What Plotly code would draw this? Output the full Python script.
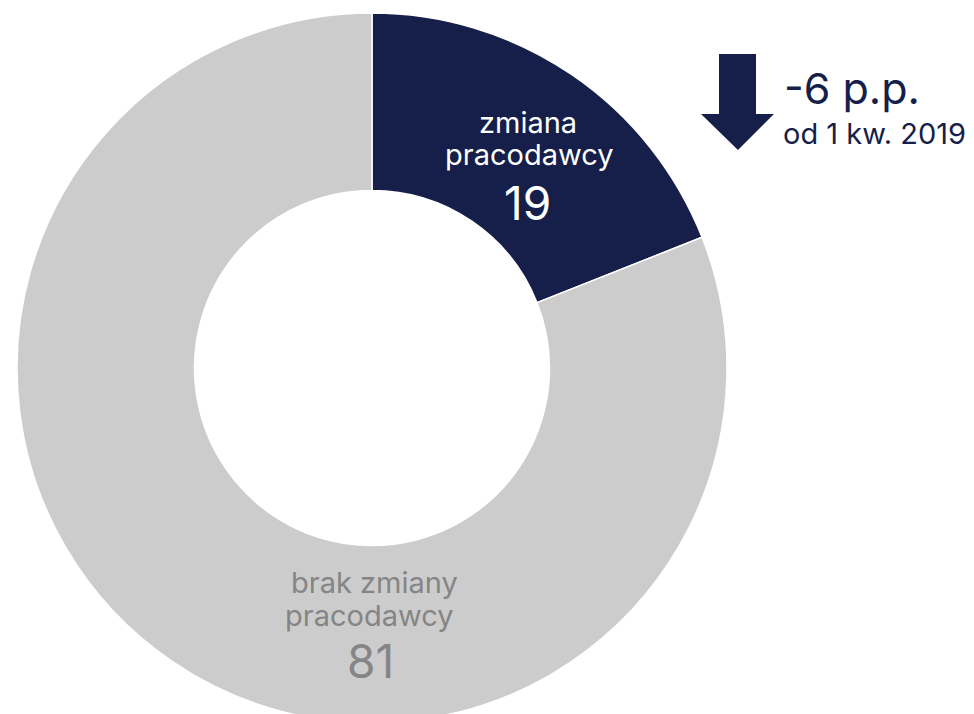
import plotly.graph_objects as go

# Data
categories = ["zmiana pracodawcy", "brak zmiany pracodawcy"]
values = [19, 81]
label_lines = [["zmiana", "pracodawcy"], ["brak zmiany", "pracodawcy"]]
change_text = "-6 p.p."
change_sub = "od 1 kw. 2019"

NAVY = "#161f4a"
GRAY = "#cccccc"
GRAY_TXT = "#858585"
FONT = "Inter"

W, H = 966, 720
OFF = 8  # page body margin

fig = go.Figure()
fig.add_trace(go.Pie(
    labels=categories,
    values=values,
    hole=0.5,
    sort=False,
    direction="clockwise",
    rotation=0,
    marker=dict(colors=[NAVY, GRAY], line=dict(color="white", width=1.5)),
    textinfo="none",
    hoverinfo="label+value",
    showlegend=False,
    domain=dict(x=[(17 - OFF) / W, (727 - OFF) / W], y=[0, 1]),
))


def px(x):
    return (x - OFF) / W


def py(y):
    return 1 - (y - OFF) / H


def label(text, x, y, size, color, anchor="center"):
    fig.add_annotation(x=px(x), y=py(y), xref="paper", yref="paper",
                       text=text, showarrow=False,
                       font=dict(family=FONT, size=size, color=color),
                       xanchor=anchor, yanchor="middle")


# slice labels
label(label_lines[0][0], 528, 122, 29, "white")
label(label_lines[0][1], 529, 155, 29, "white")
label(str(values[0]), 527, 203, 46, "white")
label(label_lines[1][0], 374, 582, 29, GRAY_TXT)
label(label_lines[1][1], 369, 615, 29, GRAY_TXT)
label(str(values[1]), 370, 661, 46, GRAY_TXT)

# change indicator
arrow = [(719, 54), (756, 54), (756, 114), (774, 114), (738, 150),
         (701, 114), (719, 114)]
path = "M " + " L ".join(f"{px(x):.5f},{py(y):.5f}" for x, y in arrow) + " Z"
fig.add_shape(type="path", path=path, xref="paper", yref="paper",
              fillcolor=NAVY, line=dict(width=0))
label(change_text, 782, 88, 43, NAVY, "left")
label(change_sub, 781, 133, 29, NAVY, "left")

fig.update_layout(
    width=W, height=H,
    margin=dict(l=0, r=0, t=0, b=0),
    paper_bgcolor="white",
    plot_bgcolor="white",
)

fig.write_html("out.html")
